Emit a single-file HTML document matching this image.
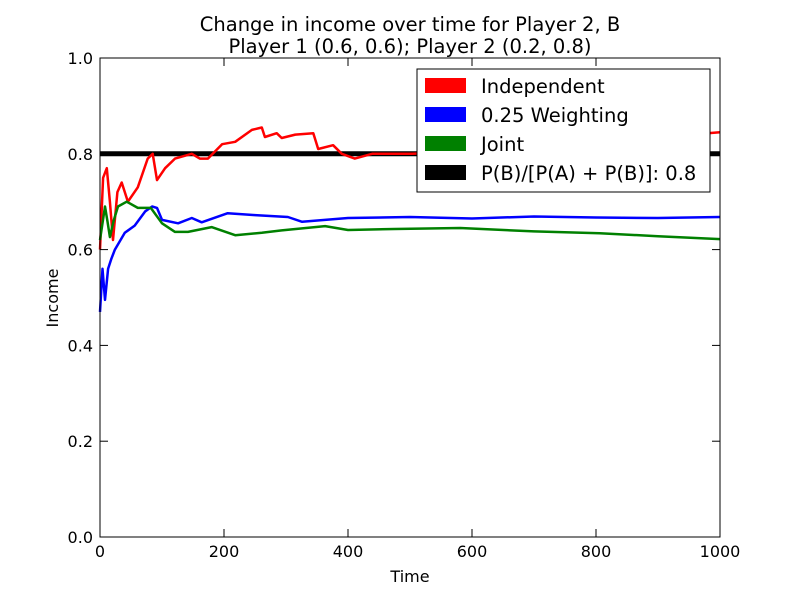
<!DOCTYPE html>
<html><head><meta charset="utf-8"><style>
body{margin:0;background:#fff;}
svg{display:block;font-family:"DejaVu Sans","Liberation Sans",sans-serif;}
</style></head><body>
<svg id="chart" width="800" height="597" viewBox="0 0 800 597">
<rect width="800" height="597" fill="#fff"/>
<text x="410" y="31" font-size="19.5" text-anchor="middle">Change in income over time for Player 2, B</text>
<text x="410" y="53" font-size="19.5" text-anchor="middle">Player 1 (0.6, 0.6); Player 2 (0.2, 0.8)</text>
<g id="series"></g>
<g id="axes"></g>
<text x="410" y="582" font-size="16" text-anchor="middle">Time</text>
<text x="58" y="298" font-size="16" text-anchor="middle" transform="rotate(-90 58 298)">Income</text>
<g>
<rect x="417" y="69" width="293" height="123" fill="#fff" stroke="#000" stroke-width="1"/>
<rect x="425" y="78" width="41" height="15" fill="#ff0000"/>
<text x="481" y="93" font-size="19.5">Independent</text>
<rect x="425" y="107" width="41" height="15" fill="#0000ff"/>
<text x="481" y="122" font-size="19.5">0.25 Weighting</text>
<rect x="425" y="136" width="41" height="15" fill="#008000"/>
<text x="481" y="151" font-size="19.5">Joint</text>
<rect x="425" y="165" width="41" height="15" fill="#000"/>
<text x="481" y="180" font-size="19.5">P(B)/[P(A) + P(B)]: 0.8</text>
</g>
</svg>
<script>
const xTicks=[0,200,400,600,800,1000];
const yTicks=[0.0,0.2,0.4,0.6,0.8,1.0];
const yTickLabels=["0.0","0.2","0.4","0.6","0.8","1.0"];
const ratioValue=0.8;
const redT=[0,5,11,16,21,28,35,45,61,77,85,92,105,121,148,161,174,197,218,245,261,266,285,293,315,344,352,376,390,411,439,503,600,700,800,900,980,1000];
const redV=[0.60,0.75,0.77,0.70,0.62,0.72,0.74,0.70,0.73,0.79,0.80,0.745,0.77,0.79,0.80,0.79,0.79,0.82,0.825,0.85,0.855,0.835,0.843,0.833,0.84,0.843,0.81,0.818,0.80,0.79,0.80,0.80,0.805,0.81,0.82,0.83,0.843,0.845];
const blueT=[0,4,8,13,18,24,40,56,73,84,92,100,126,148,164,206,250,303,326,400,500,600,700,800,900,1000];
const blueV=[0.47,0.56,0.495,0.56,0.58,0.60,0.635,0.65,0.68,0.69,0.687,0.662,0.655,0.666,0.657,0.676,0.672,0.668,0.658,0.666,0.668,0.665,0.669,0.667,0.666,0.668];
const greenT=[0,8,12,16,22,29,43,61,82,100,121,142,180,218,261,293,363,400,475,581,700,806,900,1000];
const greenV=[0.62,0.69,0.66,0.626,0.66,0.69,0.70,0.687,0.687,0.655,0.637,0.637,0.647,0.63,0.635,0.64,0.649,0.641,0.643,0.645,0.638,0.634,0.628,0.622];
const X0=100,X1=720,Y0=537,Y1=58;
const sx=t=>X0+(t/1000)*(X1-X0);
const sy=v=>Y0-v*(Y0-Y1);
const NS="http://www.w3.org/2000/svg";
const series=document.getElementById('series');
const axes=document.getElementById('axes');
function line(T,V,color,name){
  const p=document.createElementNS(NS,'polyline');
  p.setAttribute('points',T.map((t,i)=>sx(t).toFixed(1)+','+sy(V[i]).toFixed(1)).join(' '));
  p.setAttribute('fill','none');p.setAttribute('stroke',color);p.setAttribute('stroke-width','2.5');
  p.setAttribute('stroke-linejoin','round');
  
  
  series.appendChild(p);
}
const ref=document.createElementNS(NS,'line');
ref.setAttribute('x1',sx(0));ref.setAttribute('x2',sx(1000));
ref.setAttribute('y1',sy(ratioValue));ref.setAttribute('y2',sy(ratioValue));
ref.setAttribute('stroke','#000');ref.setAttribute('stroke-width','5');


series.appendChild(ref);
line(redT,redV,'#ff0000','independent-line');
line(blueT,blueV,'#0000ff','weighting-line');
line(greenT,greenV,'#008000','joint-line');
const frame=document.createElementNS(NS,'rect');
frame.setAttribute('x',X0);frame.setAttribute('y',Y1);frame.setAttribute('width',X1-X0);frame.setAttribute('height',Y0-Y1);
frame.setAttribute('fill','none');frame.setAttribute('stroke','#000');frame.setAttribute('stroke-width','1');


axes.appendChild(frame);
function tick(x1,y1,x2,y2){
  const l=document.createElementNS(NS,'line');
  l.setAttribute('x1',x1);l.setAttribute('y1',y1);l.setAttribute('x2',x2);l.setAttribute('y2',y2);
  l.setAttribute('stroke','#000');
  
  
  axes.appendChild(l);
}
xTicks.forEach(t=>{
  const x=sx(t);
  tick(x,Y0,x,Y0-8);tick(x,Y1,x,Y1+8);
  const tx=document.createElementNS(NS,'text');
  tx.setAttribute('x',x);tx.setAttribute('y',Y0+20);tx.setAttribute('font-size','16');tx.setAttribute('text-anchor','middle');
  tx.textContent=String(t);
  
  
  axes.appendChild(tx);
});
yTicks.forEach((v,i)=>{
  const y=sy(v);
  tick(X0,y,X0+8,y);tick(X1,y,X1-8,y);
  const tx=document.createElementNS(NS,'text');
  tx.setAttribute('x',X0-7);tx.setAttribute('y',y+6);tx.setAttribute('font-size','16');tx.setAttribute('text-anchor','end');
  tx.textContent=yTickLabels[i];
  
  
  axes.appendChild(tx);
});
</script>
</body></html>
